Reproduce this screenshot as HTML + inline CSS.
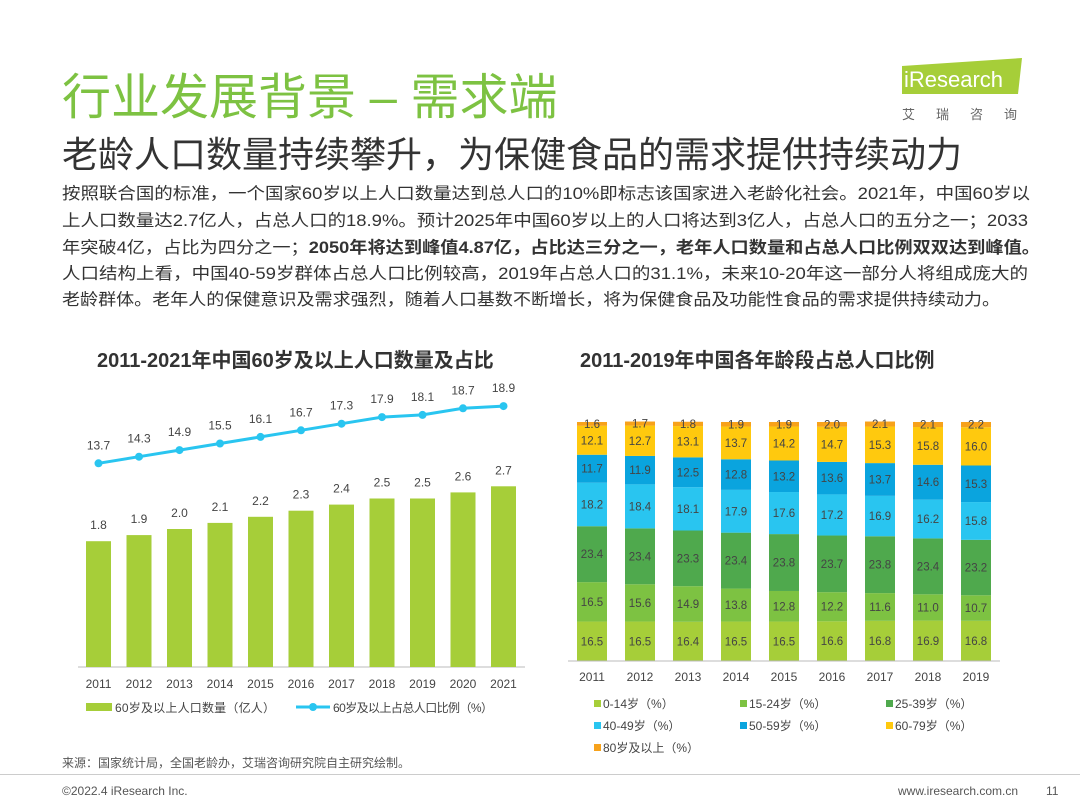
<!DOCTYPE html>
<html><head><meta charset="utf-8"><style>
body{margin:0;width:1080px;height:810px;background:#fff;font-family:"Liberation Sans","Noto Sans CJK SC",sans-serif;position:relative;overflow:hidden;color:#333}
.a{position:absolute;white-space:nowrap}
</style></head><body>
<div class="a" style="left:62px;top:58px;font-size:49px;color:#7dc242">行业发展背景 – 需求端</div>
<div class="a" style="left:900px;top:58px;width:122px;height:38px">
<svg width="122" height="40"><polygon points="2,8 122,0 118,36 2,36" fill="#a6ce39"/><text x="4" y="29" font-size="22" fill="#fff" font-family="Liberation Sans">iResearch</text></svg></div>
<div class="a" style="left:902px;top:104px;font-size:13px;color:#666;letter-spacing:21px">艾瑞咨询</div>
<div class="a" style="left:62px;top:126px;font-size:36px;color:#333">老龄人口数量持续攀升，为保健食品的需求提供持续动力</div>
<svg class="a" style="left:0;top:0" width="1080" height="320" font-size="16.5" fill="#333">
<text x="62" y="199" textLength="968" lengthAdjust="spacingAndGlyphs">按照联合国的标准，一个国家60岁以上人口数量达到总人口的10%即标志该国家进入老龄化社会。2021年，中国60岁以</text>
<text x="62" y="226" textLength="966" lengthAdjust="spacingAndGlyphs">上人口数量达2.7亿人，占总人口的18.9%。预计2025年中国60岁以上的人口将达到3亿人，占总人口的五分之一；2033</text>
<text x="62" y="253" textLength="978" lengthAdjust="spacingAndGlyphs">年突破4亿，占比为四分之一；<tspan font-weight="bold">2050年将达到峰值4.87亿，占比达三分之一，老年人口数量和占总人口比例双双达到峰值。</tspan></text>
<text x="62" y="279" textLength="966" lengthAdjust="spacingAndGlyphs">人口结构上看，中国40-59岁群体占总人口比例较高，2019年占总人口的31.1%，未来10-20年这一部分人将组成庞大的</text>
<text x="62" y="305" textLength="938" lengthAdjust="spacingAndGlyphs">老龄群体。老年人的保健意识及需求强烈，随着人口基数不断增长，将为保健食品及功能性食品的需求提供持续动力。</text>
</svg>
<div class="a" style="left:97px;top:344px;font-size:20px;font-weight:bold;color:#333">2011-2021年中国60岁及以上人口数量及占比</div>
<div class="a" style="left:580px;top:344px;font-size:20px;font-weight:bold;color:#333">2011-2019年中国各年龄段占总人口比例</div>
<svg class="a" style="left:0;top:0" width="1080" height="810" id="c"></svg>
<div class="a" style="left:62px;top:754px;font-size:12px;color:#555">来源：国家统计局，全国老龄办，艾瑞咨询研究院自主研究绘制。</div>
<div class="a" style="left:0;top:774px;width:1080px;height:1px;background:#ccc"></div>
<div class="a" style="left:62px;top:784px;font-size:12px;color:#555">©2022.4 iResearch Inc.</div>
<div class="a" style="left:898px;top:784px;font-size:12px;color:#555">www.iresearch.com.cn</div>
<div class="a" style="left:1046px;top:784px;font-size:12px;color:#555">11</div>
<script>
const years1=["2011","2012","2013","2014","2015","2016","2017","2018","2019","2020","2021"];
const popCount=[1.8,1.9,2.0,2.1,2.2,2.3,2.4,2.5,2.5,2.6,2.7];
const popRatio=[13.7,14.3,14.9,15.5,16.1,16.7,17.3,17.9,18.1,18.7,18.9];
const years2=["2011","2012","2013","2014","2015","2016","2017","2018","2019"];
const segNames=["0-14岁（%）","15-24岁（%）","25-39岁（%）","40-49岁（%）","50-59岁（%）","60-79岁（%）","80岁及以上（%）"];
const s0=[16.5,16.5,16.4,16.5,16.5,16.6,16.8,16.9,16.8];
const s1=[16.5,15.6,14.9,13.8,12.8,12.2,11.6,11.0,10.7];
const s2=[23.4,23.4,23.3,23.4,23.8,23.7,23.8,23.4,23.2];
const s3=[18.2,18.4,18.1,17.9,17.6,17.2,16.9,16.2,15.8];
const s4=[11.7,11.9,12.5,12.8,13.2,13.6,13.7,14.6,15.3];
const s5=[12.1,12.7,13.1,13.7,14.2,14.7,15.3,15.8,16.0];
const s6=[1.6,1.7,1.8,1.9,1.9,2.0,2.1,2.1,2.2];
const series=[s0,s1,s2,s3,s4,s5,s6];
const colors=["#a6ce39","#7dc242","#4fa94d","#29c5f0","#0aa4de","#ffc90e","#f7a21b"];
const svg=document.getElementById('c');
const NS="http://www.w3.org/2000/svg";
function mk(t,a,txt){const e=document.createElementNS(NS,t);for(const k in a)e.setAttribute(k,a[k]);if(txt!==undefined)e.textContent=txt;svg.appendChild(e);return e;}
const x1=i=>98.5+i*40.5, yb=v=>667-(16+61*v), yl=v=>614-11*v;
let ax=mk('line',{x1:78,x2:525,y1:667,y2:667,stroke:'#bbb'});

let pts=[];
years1.forEach((y,i)=>{
 let r=mk('rect',{x:x1(i)-12.5,y:yb(popCount[i]),width:25,height:667-yb(popCount[i]),fill:'#a6ce39'});
 
 let t=mk('text',{x:x1(i),y:yb(popCount[i])-12,'text-anchor':'middle','font-size':12,fill:'#444'},popCount[i].toFixed(1));
 
 let xl=mk('text',{x:x1(i),y:688,'text-anchor':'middle','font-size':12,fill:'#444'},y);
 
 pts.push(x1(i)+','+yl(popRatio[i]));
});
let pl=mk('polyline',{points:pts.join(' '),fill:'none',stroke:'#29c5f0','stroke-width':3});

years1.forEach((y,i)=>{
 let c=mk('circle',{cx:x1(i),cy:yl(popRatio[i]),r:4,fill:'#29c5f0'});
 
 let t=mk('text',{x:x1(i),y:yl(popRatio[i])-14,'text-anchor':'middle','font-size':12,fill:'#444'},popRatio[i].toFixed(1));
 
});
let lg1=mk('rect',{x:86,y:703,width:26,height:8,fill:'#a6ce39'});

let lt1=mk('text',{x:115,y:712,'font-size':12,fill:'#444',textLength:160},'60岁及以上人口数量（亿人）');

let lg2=mk('line',{x1:296,x2:330,y1:707,y2:707,stroke:'#29c5f0','stroke-width':3});

mk('circle',{cx:313,cy:707,r:4,fill:'#29c5f0'});
let lt2=mk('text',{x:333,y:712,'font-size':12,fill:'#444',textLength:160},'60岁及以上占总人口比例（%）');

const x2=i=>592+i*48, ys=v=>661-2.39*v;
years2.forEach((y,i)=>{
 let acc=0;
 series.forEach((s,k)=>{
  let y0=ys(acc),y1=ys(acc+s[i]);acc+=s[i];
  let r=mk('rect',{x:x2(i)-15,y:y1,width:30,height:y0-y1,fill:colors[k]});
  
  let t=mk('text',{x:x2(i),y:(y0+y1)/2+4,'text-anchor':'middle','font-size':11.5,fill:'#444'},s[i].toFixed(1));
  
 });
 let xl=mk('text',{x:x2(i),y:681,'text-anchor':'middle','font-size':12,fill:'#444'},y);
 
});
let ax2=mk('line',{x1:568,x2:1000,y1:661,y2:661,stroke:'#bbb'});

segNames.forEach((n,k)=>{
 const lx=594+(k%3)*146, ly=706+Math.floor(k/3)*22;
 let r=mk('rect',{x:lx,y:ly-6,width:7,height:7,fill:colors[k]});
 
 let t=mk('text',{x:lx+9,y:ly+2,'font-size':12,fill:'#444'},n);
 
});
</script>
</body></html>
